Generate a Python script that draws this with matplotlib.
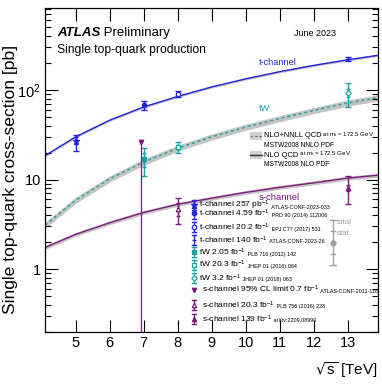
import numpy as np
import matplotlib
matplotlib.use("Agg")
import matplotlib.pyplot as plt
from matplotlib.ticker import FixedLocator, FuncFormatter, LogLocator, NullFormatter

plt.rcParams['font.family'] = ['Liberation Sans', 'DejaVu Sans']
plt.rcParams['mathtext.default'] = 'regular'

# ---------------- data ----------------
theo_sqrts = [4.1, 5, 6, 7, 8, 9, 10, 11, 12, 13, 13.9]
theo_t = [18.5, 30, 46, 64.6, 84.7, 108, 133, 160, 188, 217, 244]
theo_tw = [3.1, 5.9, 10.2, 15.7, 22.4, 30, 38.5, 48, 59, 71.7, 82]
theo_s = [1.75, 2.45, 3.3, 4.3, 5.3, 6.2, 7.2, 8.2, 9.2, 10.4, 11.2]
unc_t = 0.03
unc_tw = 0.08
unc_s = 0.05

t_x = [5.0, 7.0, 8.0, 13.0]
t_val = [27.1, 68.0, 89.6, 221.0]
t_up = [4.4, 8.0, 7.1, 13.0]
t_dn = [6.0, 8.0, 6.3, 13.0]
t_stat = [2.4, 2.0, 1.2, 1.0]
t_mark = ['*', 'o', 'o', '_']
t_fill = [True, True, False, True]

tw_x = [7.0, 8.0, 13.0]
tw_val = [16.8, 23.0, 93.0]
tw_up = [5.7, 3.2, 27.0]
tw_dn = [5.7, 3.2, 28.0]
tw_stat = [2.9, 1.3, 10.0]
tw_mark = ['s', 's', 'D']
tw_fill = [True, False, False]

s_lim_x = 6.92
s_lim_val = 26.5
s_x = [8.0, 13.0]
s_val = [4.7, 8.0]
s_up = [1.5, 3.0]
s_dn = [1.5, 2.7]
s_stat = [0.8, 0.6]
s_mark = ['^', '^']
s_fill = [False, True]

legend_labels = [
    ("t-channel 257 pb$^{-1}$", "ATLAS-CONF-2023-033"),
    ("t-channel 4.59 fb$^{-1}$", "PRD 90 (2014) 112006"),
    ("t-channel 20.2 fb$^{-1}$", "EPJ C77 (2017) 531"),
    ("t-channel 140 fb$^{-1}$", "ATLAS-CONF-2023-26"),
    ("tW 2.05 fb$^{-1}$", "PLB 716 (2012) 142"),
    ("tW 20.3 fb$^{-1}$", "JHEP 01 (2016) 064"),
    ("tW 3.2 fb$^{-1}$", "JHEP 01 (2018) 063"),
    ("s-channel 95% CL limit 0.7 fb$^{-1}$", "ATLAS-CONF-2011-118"),
    ("s-channel 20.3 fb$^{-1}$", "PLB 756 (2016) 228"),
    ("s-channel 139 fb$^{-1}$", "arXiv:2209.08990"),
]

C_T = '#2424d8'
C_TW = '#1aa3a3'
C_S = '#7f1a80'
C_BAND = '#c4c4c4'
C_GRAY = '#a0a0a0'

fig = plt.figure(figsize=(3.82, 3.85), dpi=100)
ax = fig.add_axes([0.118, 0.138, 0.872, 0.841])
ax.set_yscale('log')
ax.set_xlim(4.1, 13.9)
ax.set_ylim(0.2, 820)

x = np.array(theo_sqrts)
for vals, unc in ((theo_tw, unc_tw), (theo_s, unc_s), (theo_t, unc_t)):
    v = np.array(vals)
    ax.fill_between(x, v * (1 - unc), v * (1 + unc), color=C_BAND, lw=0, zorder=1)
ax.plot(x, theo_t, color=C_T, lw=1.0, zorder=2)
ax.plot(x, theo_tw, color=C_TW, lw=1.0, ls=(0, (2.2, 2)), zorder=2)
ax.plot(x, theo_s, color=C_S, lw=1.0, zorder=2)


def meas(xs, vals, ups, dns, stats, marks, fills, color):
    for xi, v, u, d, st, m, f in zip(xs, vals, ups, dns, stats, marks, fills):
        ax.errorbar([xi], [v], yerr=[[d], [u]], fmt='none', ecolor=color,
                    elinewidth=1.0, capsize=2.2, capthick=1.0, zorder=4)
        ax.errorbar([xi], [v], yerr=[[st], [st]], fmt='none', ecolor=color,
                    elinewidth=1.0, capsize=1.6, capthick=1.0, zorder=4)
        ms = 4.5 if m == '*' else 3.2
        if m == 'D':
            ms = 2.8
        ax.plot([xi], [v], marker=m, ms=ms, mec=color, mew=0.9,
                mfc=color if f else 'white', ls='none', zorder=5)


meas(t_x, t_val, t_up, t_dn, t_stat, t_mark, t_fill, C_T)
meas(tw_x, tw_val, tw_up, tw_dn, tw_stat, tw_mark, tw_fill, C_TW)
meas(s_x, s_val, s_up, s_dn, s_stat, s_mark, s_fill, C_S)
ax.vlines(s_lim_x, 0.2, s_lim_val, color=C_S, lw=0.9, zorder=4)
ax.plot([s_lim_x], [s_lim_val], marker='v', ms=3.2, color=C_S, ls='none', zorder=5)

ax.xaxis.set_major_locator(FixedLocator([5, 6, 7, 8, 9, 10, 11, 12, 13]))
ax.yaxis.set_major_locator(FixedLocator([1, 10, 100]))
ax.yaxis.set_minor_locator(LogLocator(base=10, subs=np.arange(2, 10), numticks=20))
ax.yaxis.set_minor_formatter(NullFormatter())
ax.yaxis.set_major_formatter(FuncFormatter(
    lambda v, p: {1: '1', 10: '10', 100: '$10^2$'}.get(int(round(v)), '')))
ax.tick_params(which='both', direction='in', top=True, right=True, labelsize=10.5)
ax.tick_params(which='major', length=9, width=0.8, pad=3)
ax.tick_params(which='minor', length=4.5, width=0.8)
for s in ax.spines.values():
    s.set_linewidth(0.9)

ax.set_ylabel('Single top-quark cross-section [pb]', fontsize=12.6)
ax.yaxis.set_label_coords(-0.08, 0.47)
ax.set_xlabel(r'$\sqrt{s}$ [TeV]', fontsize=11, loc='right')
ax.xaxis.set_label_coords(1.0, -0.088)

T = ax.transAxes
t1 = ax.text(0.036, 0.923, 'ATLAS', transform=T, fontsize=9.5, fontweight='bold',
             fontstyle='italic', va='center')
ax.annotate(' Preliminary', xy=(1, 0), xycoords=t1, fontsize=9.5, va='bottom')
ax.text(0.036, 0.872, 'Single top-quark production', transform=T, fontsize=8.7, va='center')
ax.text(0.748, 0.92, 'June 2023', transform=T, fontsize=6.4, va='center')

ax.text(0.643, 0.833, 't-channel', transform=T, fontsize=6.6, color=C_T, va='center')
ax.text(0.643, 0.691, 'tW', transform=T, fontsize=6.6, color=C_TW, va='center')
ax.text(0.642, 0.414, 's-channel', transform=T, fontsize=6.8, color=C_S, va='center')

lx0, lx1 = 0.616, 0.652
y1, y2 = 0.605, 0.546
for yy in (y1, y2):
    ax.add_patch(plt.Rectangle((lx0, yy - 0.013), lx1 - lx0, 0.026, transform=T,
                               color='#d0d0d0', lw=0, zorder=6))
ax.plot([lx0, lx1], [y1, y1], transform=T, color='#707070', lw=0.9,
        ls=(0, (2, 1.6)), zorder=7)
ax.plot([lx0, lx1], [y2, y2], transform=T, color='#303030', lw=1.0, zorder=7)
a = ax.text(0.657, y1, 'NLO+NNLL QCD', transform=T, fontsize=5.4, va='center')
ax.annotate(' at m$_t$ = 172.5 GeV', xy=(1, 0.1), xycoords=a, fontsize=4.4, va='bottom')
ax.text(0.657, 0.576, 'MSTW2008 NNLO PDF', transform=T, fontsize=4.8, va='center')
b = ax.text(0.657, y2, 'NLO QCD', transform=T, fontsize=5.4, va='center')
ax.annotate(' at m$_t$ = 172.5 GeV', xy=(1, 0.1), xycoords=b, fontsize=4.4, va='bottom')
ax.text(0.657, 0.517, 'MSTW2008 NLO PDF', transform=T, fontsize=4.8, va='center')

leg_y = [0.392, 0.366, 0.323, 0.284, 0.246, 0.207, 0.166, 0.130, 0.083, 0.040]
leg_x = [0.462] * 7 + [0.471] * 3
leg_mark = ['*', 'o', 'o', '_', 's', 's', 'D', 'v', '^', '^']
leg_fill = [True, True, False, True, True, False, False, True, False, True]
leg_col = [C_T] * 4 + [C_TW] * 3 + [C_S] * 3
mx = 0.447
for yy, tx, m, f, c, (lab, ref) in zip(leg_y, leg_x, leg_mark, leg_fill, leg_col, legend_labels):
    if m != 'v':
        h = 0.016
        ax.plot([mx, mx], [yy - h, yy + h], transform=T, color=c, lw=1.0, zorder=7)
        for cy in (yy - h, yy + h):
            ax.plot([mx - 0.007, mx + 0.007], [cy, cy], transform=T, color=c, lw=1.0, zorder=7)
    ms = 4.5 if m == '*' else 3.2
    if m == 'D':
        ms = 2.8
    ax.plot([mx], [yy], transform=T, marker=m, ms=ms, mec=c, mew=0.9,
            mfc=c if f else 'white', ls='none', zorder=8)
    tt = ax.text(tx, yy, lab, transform=T, fontsize=6.0, va='center', zorder=8)
    ax.annotate(' ' + ref, xy=(1, 0.12), xycoords=tt, fontsize=3.9, va='bottom', zorder=8)

gx = 0.865
ax.plot([gx, gx], [0.207, 0.346], transform=T, color=C_GRAY, lw=1.0, zorder=7)
for cy, w in ((0.207, 0.009), (0.346, 0.009), (0.240, 0.006), (0.312, 0.006)):
    ax.plot([gx - w, gx + w], [cy, cy], transform=T, color=C_GRAY, lw=1.0, zorder=7)
ax.plot([gx], [0.273], transform=T, marker='o', ms=3.5, color=C_GRAY, zorder=8)
ax.text(0.877, 0.337, 'total', transform=T, fontsize=5.6, color=C_GRAY, va='center')
ax.text(0.877, 0.304, 'stat.', transform=T, fontsize=5.6, color=C_GRAY, va='center')

fig.savefig('out.png', dpi=100)
